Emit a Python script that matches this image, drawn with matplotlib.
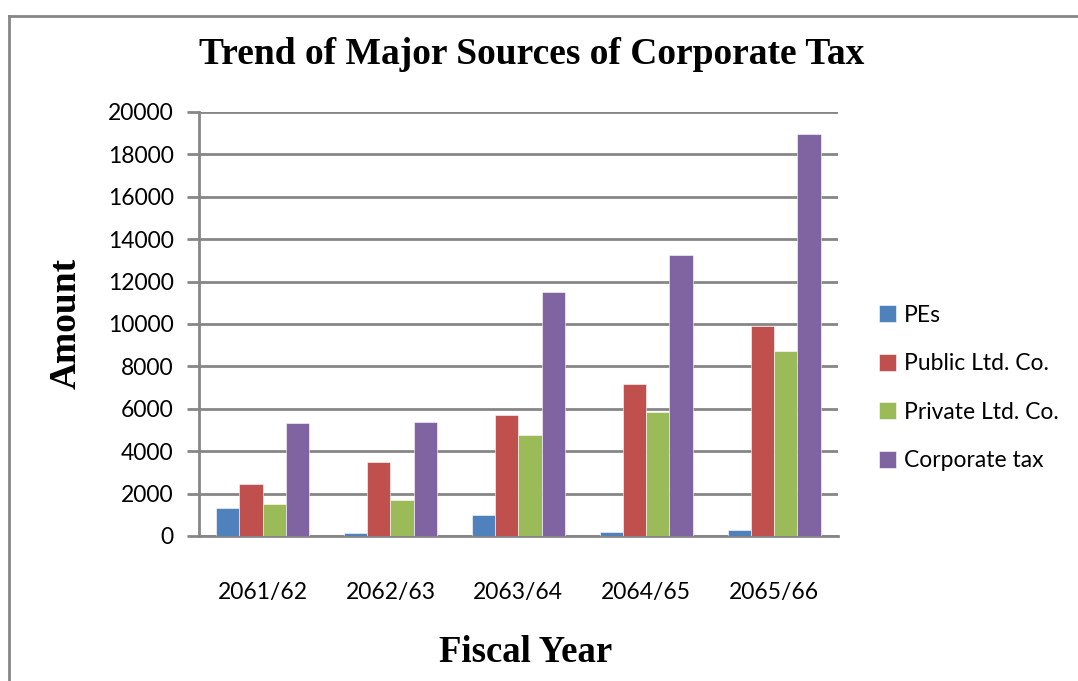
import numpy as np
import matplotlib
matplotlib.use("Agg")
import matplotlib.pyplot as plt
from matplotlib.lines import Line2D

# Corporate tax sources by fiscal year
years = ['2061/62', '2062/63', '2063/64', '2064/65', '2065/66']
pes = [1320, 160, 1010, 170, 300]
public_ltd = [2460, 3510, 5700, 7180, 9900]
private_ltd = [1510, 1690, 4770, 5870, 8740]
corporate_tax = [5330, 5390, 11500, 13250, 18980]

series = [
    ('PEs', pes, '#4F81BD'),
    ('Public Ltd. Co.', public_ltd, '#C0504D'),
    ('Private Ltd. Co.', private_ltd, '#9BBB59'),
    ('Corporate tax', corporate_tax, '#8064A2'),
]

W, H = 1078, 681
fig = plt.figure(figsize=(W / 100, H / 100), dpi=100)
ax = fig.add_axes([198.7 / W, 1 - 536 / H, (838 - 198.7) / W, (536 - 112) / H])

x = np.arange(len(years))
bw = 0.182
for i, (name, vals, col) in enumerate(series):
    ax.bar(x + (i - 1.5) * bw, vals, bw, color=col, label=name,
           edgecolor='white', linewidth=0.4, zorder=3)

ax.set_xlim(-0.5, len(years) - 0.5)
ax.set_ylim(0, 20000)
ax.set_yticks(np.arange(0, 20001, 2000))
ax.grid(axis='y', color='#868686', linewidth=2, zorder=0)

for side in ['top', 'right']:
    ax.spines[side].set_visible(False)
for side in ['left', 'bottom']:
    ax.spines[side].set_color('#868686')
    ax.spines[side].set_linewidth(2)

tick_font = 'Lato'
ax.set_xticks(x)
ax.set_xticklabels(years, fontsize=16.5, fontfamily=tick_font)
ax.tick_params(axis='x', length=0, pad=33)
ax.tick_params(axis='y', length=9, width=2, color='#868686', pad=9,
               labelsize=16.5)
for lbl in ax.get_yticklabels():
    lbl.set_fontfamily(tick_font)

serif = 'Liberation Serif'
fig.text(532 / W, 1 - 54 / H, 'Trend of Major Sources of Corporate Tax',
         ha='center', va='center', fontsize=27, fontweight='bold',
         fontfamily=serif)
fig.text(66 / W, 1 - 323 / H, 'Amount', rotation=90, ha='center',
         va='center', fontsize=27, fontweight='bold', fontfamily=serif)
fig.text(526 / W, 1 - 652 / H, 'Fiscal Year', ha='center', va='center',
         fontsize=26.5, fontweight='bold', fontfamily=serif)

leg = ax.legend(loc='center left', bbox_to_anchor=(858 / W, 1 - 388 / H),
                bbox_transform=fig.transFigure, frameon=False,
                prop={'family': tick_font, 'size': 16.5},
                handlelength=0.75, handleheight=0.75, handletextpad=0.35,
                labelspacing=1.2)

# outer chart border
fig.add_artist(Line2D([9 / W, 9 / W], [0, 1 - 16 / H], color='#868686',
                      linewidth=2, transform=fig.transFigure))
fig.add_artist(Line2D([9 / W, 1], [1 - 16 / H, 1 - 16 / H], color='#868686',
                      linewidth=2, transform=fig.transFigure))

fig.savefig('out.png', dpi=100)
